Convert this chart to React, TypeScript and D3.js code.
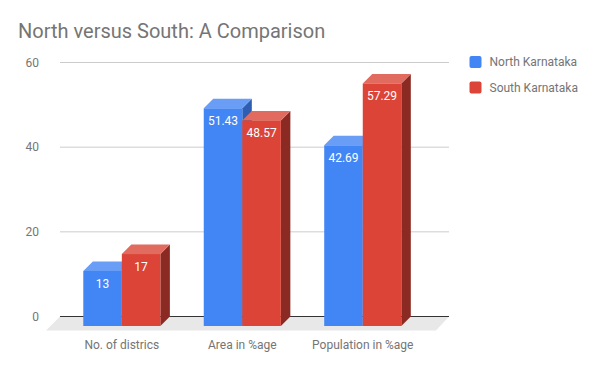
import * as d3 from 'd3';

const categories = ['No. of districs', 'Area in %age', 'Population in %age'];
const northValues = [13, 51.43, 42.69];
const southValues = [17, 48.57, 57.29];
const seriesNames = ['North Karnataka', 'South Karnataka'];
const yTicks = [0, 20, 40, 60];

const W = 600;
const H = 371;
const FONT = 'Roboto, Arial, sans-serif';

// 3D depth offset (back plane = front plane + dx, - dy)
const DX = 9.5;
const DY = 9.5;

const palette = [
  { front: '#4285f4', top: '#6a9ef6', side: '#2d5eb3' },
  { front: '#db4437', top: '#e26b60', side: '#8b2a22' },
];

export default function App() {
  const x = d3.scaleBand<string>().domain(categories).range([61.6, 423]).paddingInner(0.36).paddingOuter(0.18);
  const inner = d3.scaleBand<number>().domain([0, 1]).range([0, x.bandwidth()]);
  // front plane y
  const y = d3.scaleLinear().domain([0, 60]).range([326, 72]);
  const yBack = (v: number) => y(v) - DY;

  const gridX0 = 60;
  const gridX1 = 449;
  const series = [northValues, southValues];

  return (
    <svg width={W} height={H} style={{ position: 'absolute', left: 0, top: 0, background: '#fff' }}>
      <rect width={W} height={H} fill="#fff" />
      <text x={18} y={38} fontFamily={FONT} fontSize={20} fill="#757575">
        North versus South: A Comparison
      </text>

      {/* floor */}
      <path
        d={`M${gridX0},${yBack(0)} L${gridX1},${yBack(0)} L${gridX1 - 13},${yBack(0) + 14} L${gridX0 - 14},${yBack(0) + 14} Z`}
        fill="#e8e8e8"
      />

      {/* grid */}
      {yTicks.map((t) => (
        <g key={t}>
          {t !== 0 && (
            <line x1={gridX0} x2={gridX1} y1={yBack(t)} y2={yBack(t)} stroke="#cccccc" strokeWidth={1} />
          )}
          <text
            x={39}
            y={yBack(t)}
            dy="0.35em"
            textAnchor="end"
            fontFamily={FONT}
            fontSize={12}
            fill="#757575"
          >
            {t}
          </text>
        </g>
      ))}
      <line x1={gridX0} x2={gridX1} y1={yBack(0)} y2={yBack(0)} stroke="#333" strokeWidth={1.2} />

      {/* bars */}
      {categories.map((c, ci) => (
        <g key={c}>
          {series.map((vals, si) => {
            const v = vals[ci];
            const x0 = (x(c) || 0) + (inner(si) || 0);
            const x1 = x0 + inner.bandwidth();
            const yt = y(v);
            const yb = y(0);
            const col = palette[si];
            return (
              <g key={si}>
                <path
                  d={`M${x1},${yt} L${x1 + DX},${yt - DY} L${x1 + DX},${yb - DY} L${x1},${yb} Z`}
                  fill={col.side}
                />
                <path
                  d={`M${x0},${yt} L${x0 + DX},${yt - DY} L${x1 + DX},${yt - DY} L${x1},${yt} Z`}
                  fill={col.top}
                />
                <rect x={x0} y={yt} width={x1 - x0} height={yb - yt} fill={col.front} />
                <text
                  x={(x0 + x1) / 2}
                  y={yt + 12.6}
                  dy="0.35em"
                  textAnchor="middle"
                  fontFamily={FONT}
                  fontSize={12}
                  fill="#ffffff"
                >
                  {v}
                </text>
              </g>
            );
          })}
          <text
            x={(x(c) || 0) + x.bandwidth() / 2}
            y={345}
            dy="0.35em"
            textAnchor="middle"
            fontFamily={FONT}
            fontSize={12}
            fill="#757575"
          >
            {c}
          </text>
        </g>
      ))}

      {/* legend */}
      {seriesNames.map((n, i) => (
        <g key={n} transform={`translate(469.5, ${62 + i * 25.5})`}>
          <rect x={0} y={-6} width={12} height={12} rx={2} fill={palette[i].front} />
          <text x={20} y={0} dy="0.35em" fontFamily={FONT} fontSize={12} fill="#757575">
            {n}
          </text>
        </g>
      ))}
    </svg>
  );
}
